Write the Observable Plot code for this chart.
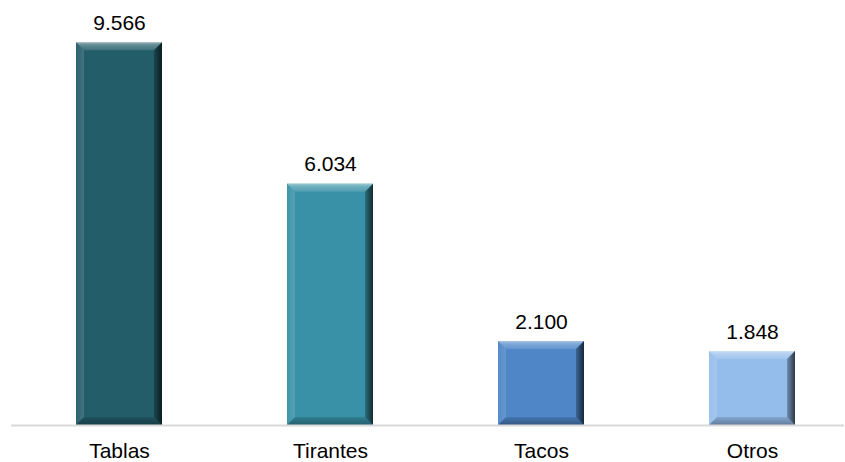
<!DOCTYPE html>
<html>
<head>
<meta charset="utf-8">
<script src="https://cdn.jsdelivr.net/npm/d3@7"></script>
<script src="https://cdn.jsdelivr.net/npm/@observablehq/plot@0.6"></script>
<style>
  html, body { margin: 0; padding: 0; background: #fff; }
  #chart { width: 845px; height: 462px; }
  svg { display: block; }
</style>
</head>
<body>
<div id="chart"></div>
<script>
const categories = ["Tablas", "Tirantes", "Tacos", "Otros"];
const values = [9566, 6034, 2100, 1848];
const colors = ["#235d69", "#3891a6", "#4e86c7", "#95bdec"];

const data = categories.map((c, i) => ({category: c, value: values[i], color: colors[i]}));
const fmt = d3.formatLocale({decimal: ",", thousands: ".", grouping: [3], currency: ["", ""]}).format(",d");

const plot = Plot.plot({
  width: 845,
  height: 462,
  marginTop: 25,
  marginBottom: 37,
  marginLeft: 11,
  marginRight: 1,
  style: {fontFamily: "Liberation Sans, Arial, sans-serif", fontSize: "21px", color: "#000", background: "#fff"},
  x: {domain: categories, range: [12, 859], paddingInner: 0.594, paddingOuter: 0.297, label: null},
  y: {domain: [0, 10000], axis: null},
  marks: [
    Plot.barY(data, {x: "category", y: "value", fill: "color"}),
    Plot.ruleY([0], {stroke: "#d9d9d9", strokeWidth: 2}),
    Plot.text(data, {x: "category", y: "value", text: d => fmt(d.value), lineAnchor: "bottom", dy: -13, fontSize: 21, fill: "#000"}),
    Plot.axisX({tickSize: 0, tickPadding: 18, fontSize: 21, fill: "#000", label: null})
  ]
});

document.getElementById("chart").appendChild(plot);

// Bevel decoration over the bars rendered by Plot
const ns = "http://www.w3.org/2000/svg";
const svg = plot.tagName.toLowerCase() === "svg" ? plot : plot.querySelector("svg");
const defs = document.createElementNS(ns, "defs");
defs.innerHTML = `
  <linearGradient id="gRight" x1="0" x2="1" y1="0" y2="0">
    <stop offset="0" stop-color="#000" stop-opacity="0.25"/>
    <stop offset="1" stop-color="#000" stop-opacity="0.7"/>
  </linearGradient>
  <linearGradient id="gTop" x1="0" x2="0" y1="0" y2="1">
    <stop offset="0" stop-color="#fff" stop-opacity="0.5"/>
    <stop offset="0.35" stop-color="#fff" stop-opacity="0.28"/>
    <stop offset="1" stop-color="#fff" stop-opacity="0.12"/>
  </linearGradient>
  <linearGradient id="gBottom" x1="0" x2="0" y1="0" y2="1">
    <stop offset="0" stop-color="#000" stop-opacity="0.12"/>
    <stop offset="1" stop-color="#000" stop-opacity="0.35"/>
  </linearGradient>
  <linearGradient id="gLeft" x1="0" x2="1" y1="0" y2="0">
    <stop offset="0" stop-color="#fff" stop-opacity="0.04"/>
    <stop offset="1" stop-color="#fff" stop-opacity="0.14"/>
  </linearGradient>`;
svg.insertBefore(defs, svg.firstChild);

const barGroup = svg.querySelector('g[aria-label="bar"]');
const rects = Array.from(barGroup.querySelectorAll("rect"));
rects.forEach(r => {
  const x = +r.getAttribute("x"), y = +r.getAttribute("y");
  const w = +r.getAttribute("width"), h = +r.getAttribute("height");
  const b = 8;
  const polys = [
    {pts: [[x, y], [x + w, y], [x + w - b, y + b], [x + b, y + b]], fill: "url(#gTop)"},
    {pts: [[x, y], [x + b, y + b], [x + b, y + h - b], [x, y + h]], fill: "url(#gLeft)"},
    {pts: [[x + w, y], [x + w, y + h], [x + w - b, y + h - b], [x + w - b, y + b]], fill: "url(#gRight)"},
    {pts: [[x, y + h], [x + w, y + h], [x + w - b, y + h - b], [x + b, y + h - b]], fill: "url(#gBottom)"}
  ];
  polys.forEach(p => {
    const el = document.createElementNS(ns, "polygon");
    el.setAttribute("points", p.pts.map(q => q.join(",")).join(" "));
    el.setAttribute("fill", p.fill);
    barGroup.appendChild(el);
  });
});
</script>
</body>
</html>
